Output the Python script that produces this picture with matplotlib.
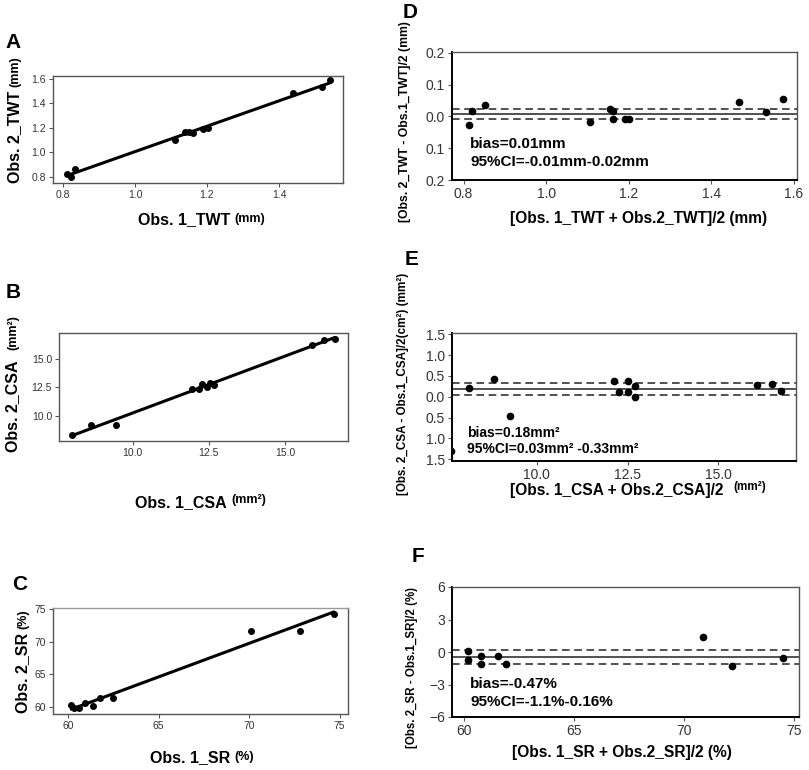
import matplotlib
matplotlib.use("Agg")
import matplotlib.pyplot as plt
import numpy as np

plt.rcParams['font.family'] = ['Liberation Sans', 'DejaVu Sans']

# ---- data ----
twt_obs1 = [0.811, 0.822, 0.832, 1.110, 1.140, 1.151, 1.161, 1.189, 1.202, 1.440, 1.521, 1.542]
twt_obs2 = [0.827, 0.800, 0.868, 1.100, 1.166, 1.166, 1.155, 1.188, 1.196, 1.483, 1.532, 1.592]

csa_obs1 = [8.02, 8.63, 9.47, 11.94, 12.19, 12.29, 12.43, 12.54, 12.68, 15.88, 16.28, 16.62]
csa_obs2 = [8.28, 9.17, 9.17, 12.37, 12.34, 12.78, 12.57, 12.87, 12.72, 16.21, 16.66, 16.78]

sr_obs1 = [60.18, 60.31, 60.59, 60.95, 61.38, 61.74, 62.51, 70.09, 72.79, 74.68]
sr_obs2 = [60.26, 59.74, 59.74, 60.61, 60.15, 61.38, 61.38, 71.63, 71.63, 74.29]

twt_mean = [0.812, 0.820, 0.851, 1.107, 1.156, 1.161, 1.161, 1.192, 1.200, 1.468, 1.533, 1.573]
twt_diff = [-0.027, 0.017, 0.036, -0.018, 0.024, 0.017, -0.007, -0.007, -0.007, 0.045, 0.015, 0.054]
twt_bias, twt_lo, twt_hi = 0.009, -0.007, 0.025

csa_mean = [7.62, 8.12, 8.83, 9.27, 12.12, 12.25, 12.50, 12.50, 12.69, 12.69, 16.07, 16.49, 16.72]
csa_diff = [-1.29, 0.20, 0.42, -0.45, 0.375, 0.12, 0.375, 0.12, 0.255, 0.0, 0.28, 0.295, 0.145]
csa_bias, csa_lo, csa_hi = 0.18, 0.04, 0.335

sr_mean = [60.20, 60.20, 60.79, 60.79, 61.56, 61.93, 70.85, 72.16, 74.50]
sr_diff = [0.06, -0.77, -0.34, -1.11, -0.34, -1.11, 1.38, -1.32, -0.58]
sr_bias, sr_lo, sr_hi = -0.43, -1.08, 0.215

W, H = 809, 770
fig = plt.figure(figsize=(W / 100, H / 100), dpi=100)
fig.patch.set_facecolor('white')


def px_axes(l, t, r, b):
    return fig.add_axes([l / W, 1 - b / H, (r - l) / W, (b - t) / H])


def ftext(x, y, s, **kw):
    return fig.text(x / W, 1 - y / H, s, **kw)


def style(ax, size):
    for sp in ax.spines.values():
        sp.set_color('#555555')
        sp.set_linewidth(1.0)
    ax.tick_params(direction='out', length=3, width=0.8, color='#555555',
                   labelsize=size, labelcolor='#333333', pad=2)


def scatter_panel(ax, x, y):
    x = np.asarray(x)
    k, b = np.polyfit(x, y, 1)
    xs = np.array([x.min(), x.max()])
    ax.plot(xs, k * xs + b, color='black', lw=2.2, solid_capstyle='round')
    ax.plot(x, y, 'o', color='black', ms=4)


def ba_panel(ax, x, y, bias, lo, hi):
    ax.axhline(bias, color='#222222', lw=1.1)
    ax.axhline(lo, color='#222222', lw=1.1, ls=(0, (5, 3)))
    ax.axhline(hi, color='#222222', lw=1.1, ls=(0, (5, 3)))
    ax.plot(x, y, 'o', color='black', ms=4.5)
    ax.spines['left'].set_color('black')
    ax.spines['bottom'].set_color('black')
    ax.spines['left'].set_linewidth(1.4)
    ax.spines['bottom'].set_linewidth(1.4)


def xlabel_unit(x_end, y, main, unit, size, usize, dy=0):
    # main text ends at x_end, smaller unit text follows to the right
    t = ftext(x_end, y, main, fontsize=size, fontweight='bold', ha='right', va='center')
    fig.add_artist(plt.Annotation(unit, xy=(1, 0.5), xycoords=t, xytext=(3, dy),
                                  textcoords='offset points', fontsize=usize,
                                  fontweight='bold', ha='left', va='center'))


def ylabel_unit(x, y_bottom, main, unit, size, usize, gap=3):
    # rotated main text starts at y_bottom, smaller unit text continues above it
    t = ftext(x, y_bottom, main, fontsize=size, fontweight='bold', rotation=90,
              ha='center', va='bottom')
    fig.add_artist(plt.Annotation(unit, xy=(0.5, 1), xycoords=t, xytext=(0, gap),
                                  textcoords='offset points', fontsize=usize,
                                  fontweight='bold', rotation=90, ha='center', va='bottom'))


# ---- A ----
axA = px_axes(53, 76, 343, 183)
scatter_panel(axA, twt_obs1, twt_obs2)
axA.set_xlim(0.772, 1.578)
axA.set_ylim(0.751, 1.624)
axA.set_xticks([0.8, 1.0, 1.2, 1.4])
axA.set_xticklabels(['0.8', '1.0', '1.2', '1.4'])
axA.set_yticks([0.8, 1.0, 1.2, 1.4, 1.6])
axA.set_yticklabels(['0.8', '1.0', '1.2', '1.4', '1.6'])
style(axA, 7.5)

# ---- B ----
axB = px_axes(59, 333, 348, 441)
scatter_panel(axB, csa_obs1, csa_obs2)
axB.set_xlim(7.59, 17.06)
axB.set_ylim(7.75, 17.31)
axB.set_xticks([10, 12.5, 15])
axB.set_xticklabels(['10.0', '12.5', '15.0'])
axB.set_yticks([10, 12.5, 15])
axB.set_yticklabels(['10.0', '12.5', '15.0'])
style(axB, 7.5)

# ---- C ----
axC = px_axes(53, 608, 348, 714)
scatter_panel(axC, sr_obs1, sr_obs2)
axC.set_xlim(59.17, 75.46)
axC.set_ylim(58.88, 75.15)
axC.set_xticks([60, 65, 70, 75])
axC.set_yticks([60, 65, 70, 75])
style(axC, 7.5)
axC.spines['top'].set_color('#999999')

# ---- D ----
axD = px_axes(452, 52, 797, 180)
style(axD, 10)
ba_panel(axD, twt_mean, twt_diff, twt_bias, twt_lo, twt_hi)
axD.set_xlim(0.772, 1.608)
axD.set_ylim(-0.2, 0.203)
axD.set_xticks([0.8, 1.0, 1.2, 1.4, 1.6])
axD.set_xticklabels(['0.8', '1.0', '1.2', '1.4', '1.6'])
axD.set_yticks([-0.2, -0.1, 0.0, 0.1, 0.2])
axD.set_yticklabels(['0.2', '0.1', '0.0', '0.1', '0.2'])
axD.text(0.816, -0.087, 'bias=0.01mm', fontsize=11, fontweight='bold', va='center')
axD.text(0.816, -0.142, '95%CI=-0.01mm-0.02mm', fontsize=11, fontweight='bold', va='center')

# ---- E ----
axE = px_axes(452, 333, 796, 461)
style(axE, 10)
ba_panel(axE, csa_mean, csa_diff, csa_bias, csa_lo, csa_hi)
axE.set_xlim(7.66, 17.14)
axE.set_ylim(-1.54, 1.53)
axE.set_xticks([10, 12.5, 15])
axE.set_xticklabels(['10.0', '12.5', '15.0'])
axE.set_yticks([-1.5, -1.0, -0.5, 0.0, 0.5, 1.0, 1.5])
axE.set_yticklabels(['1.5', '1.0', '0.5', '0.0', '0.5', '1.0', '1.5'])
axE.text(8.07, -0.88, 'bias=0.18mm²', fontsize=10, fontweight='bold', va='center')
axE.text(8.07, -1.26, '95%CI=0.03mm² -0.33mm²', fontsize=10, fontweight='bold', va='center')

# ---- F ----
axF = px_axes(452, 587, 799, 717)
style(axF, 10)
ba_panel(axF, sr_mean, sr_diff, sr_bias, sr_lo, sr_hi)
axF.set_xlim(59.47, 75.21)
axF.set_ylim(-6, 6)
axF.set_xticks([60, 65, 70, 75])
axF.set_yticks([-6, -3, 0, 3, 6])
axF.text(60.3, -2.92, 'bias=-0.47%', fontsize=11, fontweight='bold', va='center')
axF.text(60.3, -4.65, '95%CI=-1.1%-0.16%', fontsize=11, fontweight='bold', va='center')

# ---- panel letters ----
for letter, (x, y) in zip('ABCDEF', [(13, 42), (13, 292), (20, 585), (410, 13), (412, 259), (418, 557)]):
    ftext(x, y, letter, fontsize=15, fontweight='bold', ha='center', va='center')

# ---- axis labels (main part + smaller unit) ----
xlabel_unit(230, 220, 'Obs. 1_TWT', '(mm)', 11.5, 9, dy=1)
ylabel_unit(15, 183, 'Obs. 2_TWT', '(mm)', 11.5, 9)

xlabel_unit(227, 503, 'Obs. 1_CSA', '(mm²)', 11.5, 9, dy=2)
ftext(13, 452, 'Obs. 2_CSA', fontsize=11.5, fontweight='bold', rotation=90, ha='center', va='bottom')
ftext(13, 350, '(mm²)', fontsize=9, fontweight='bold', rotation=90, ha='center', va='bottom')

xlabel_unit(230, 758, 'Obs. 1_SR', '(%)', 11.5, 9, dy=1)
ylabel_unit(23, 713, 'Obs. 2_SR', '(%)', 11.5, 9)

ftext(639, 218, '[Obs. 1_TWT + Obs.2_TWT]/2 (mm)', fontsize=11.2, ha='center', va='center', fontweight='bold')
ftext(405, 122, '[Obs. 2_TWT - Obs.1_TWT]/2 (mm)', fontsize=8.8, rotation=90, ha='center', va='center', fontweight='bold')

ftext(723, 490, '[Obs. 1_CSA + Obs.2_CSA]/2', fontsize=11.2, ha='right', va='center', fontweight='bold')
ftext(733, 487, '(mm²)', fontsize=8.5, ha='left', va='center', fontweight='bold')
ftext(403, 273, '[Obs. 2_CSA - Obs.1_CSA]/2(cm²) (mm²)', fontsize=8.4, rotation=90, ha='center', va='top', fontweight='bold')

ftext(622, 753, '[Obs. 1_SR + Obs.2_SR]/2 (%)', fontsize=11.2, ha='center', va='center', fontweight='bold')
ftext(412, 667, '[Obs. 2_SR - Obs.1_SR]/2 (%)', fontsize=8.3, rotation=90, ha='center', va='center', fontweight='bold')

fig.savefig('out.png', dpi=100)
